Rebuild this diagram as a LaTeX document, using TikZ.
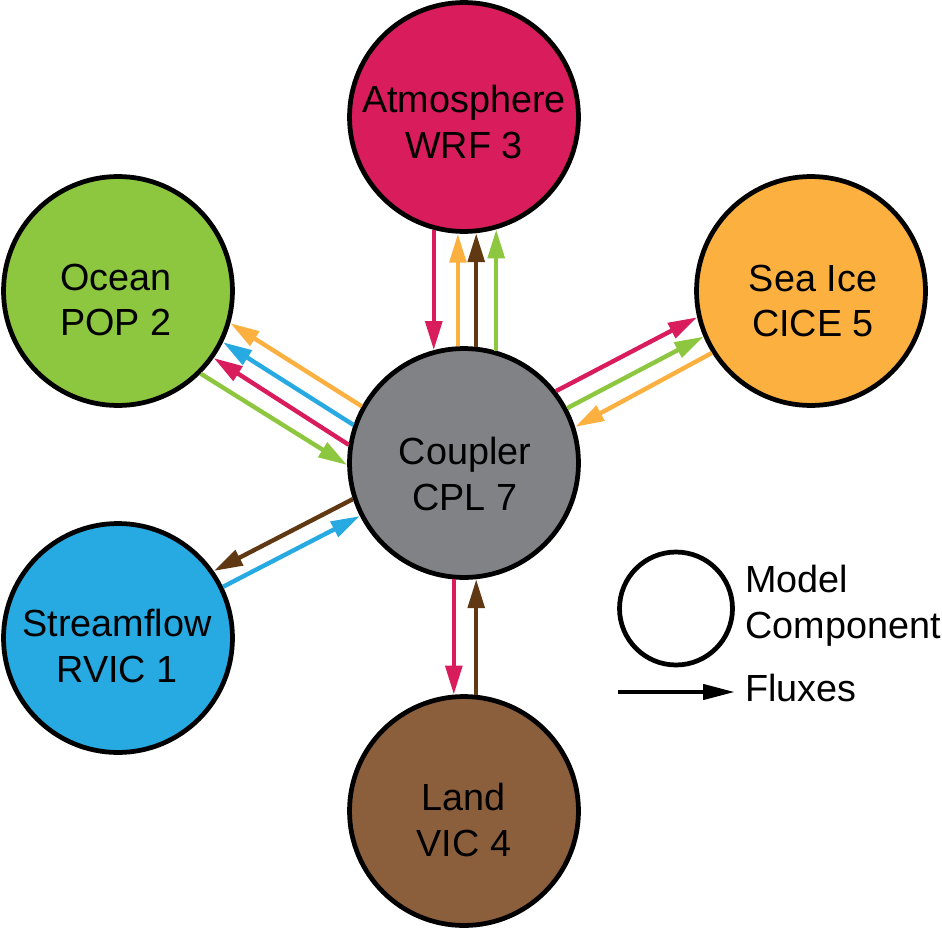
\documentclass[tikz,border=0pt]{standalone}
\usepackage{fontspec}
\setmainfont{Liberation Sans}
\usepackage{xcolor}
\usepackage{tikz}
\usetikzlibrary{arrows.meta}
\definecolor{atmcol}{HTML}{D91C5C}
\definecolor{icecol}{HTML}{FBB040}
\definecolor{oceancol}{HTML}{8DC63F}
\definecolor{rivercol}{HTML}{27AAE1}
\definecolor{landcol}{HTML}{8B5E3C}
\definecolor{landflux}{HTML}{603913}
\definecolor{cplcol}{HTML}{808285}

\begin{document}
\begin{tikzpicture}[x=0.02cm, y=-0.02cm,
    comp/.style={circle, draw=black, line width=0.095cm, minimum size=4.58cm, inner sep=0pt},
    lbl/.style={align=center, inner sep=0pt, font=\fontsize{21.5}{26}\selectfont},
    flux/.style={line width=0.088cm, -{Triangle[length=0.58cm, width=0.33cm]}}]
    \useasboundingbox (0,0) rectangle (942,929);

    \node[comp, fill=atmcol] (atm) at (464, 117) {};
    \node[comp, fill=oceancol] (ocean) at (118, 291) {};
    \node[comp, fill=icecol] (ice) at (811, 291) {};
    \node[comp, fill=cplcol] (cpl) at (464, 463) {};
    \node[comp, fill=rivercol] (river) at (118, 638) {};
    \node[comp, fill=landcol] (land) at (464, 811) {};

    \node[lbl] (atmtxt) at (464, 122) {Atmosphere\\WRF 3};
    \node[lbl] (oceantxt) at (116, 300) {Ocean\\POP 2};
    \node[lbl] (icetxt) at (813, 301) {Sea Ice\\CICE 5};
    \node[lbl] (cpltxt) at (465, 474) {Coupler\\CPL 7};
    \node[lbl] (rivertxt) at (117, 646) {Streamflow\\RVIC 1};
    \node[lbl] (landtxt) at (464, 820) {Land\\VIC 4};

    \draw[flux, atmcol] (atm.-105.7) -- (cpl.105.7);
    \draw[flux, icecol] (cpl.93.6) -- (atm.-93.6);
    \draw[flux, landflux] (cpl.84.6) -- (atm.-84.6);
    \draw[flux, oceancol] (cpl.74.6) -- (atm.-74.6);

    \draw[flux, icecol] (cpl.151.7) -- (ocean.-16.9);
    \draw[flux, rivercol] (cpl.161.1) -- (ocean.-26.4);
    \draw[flux, atmcol] (cpl.171.2) -- (ocean.-35.9);
    \draw[flux, oceancol] (ocean.-45.7) -- (cpl.181.8);

    \draw[flux, atmcol] (cpl.38.2) -- (ice.193.8);
    \draw[flux, oceancol] (cpl.28.4) -- (ice.203);
    \draw[flux, icecol] (ice.212.8) -- (cpl.18.6);

    \draw[flux, landflux] (cpl.198.2) -- (river.35.5);
    \draw[flux, rivercol] (river.26) -- (cpl.207.3);

    \draw[flux, atmcol] (cpl.-95.5) -- (land.95.5);
    \draw[flux, landflux] (land.84.6) -- (cpl.-84.6);

    \node[comp, minimum size=2.26cm, fill=white] (legcirc) at (676, 608.5) {};
    \node[lbl, align=left, anchor=west] (legtxt) at (745, 606) {Model\\Component};
    \node[lbl, anchor=west] (fluxtxt) at (745, 688) {Fluxes};
    \coordinate (fluxtail) at (618, 692);
    \draw[flux, black, -{Triangle[length=0.64cm, width=0.3cm]}, shorten >=0.2cm] (fluxtail) -- (fluxtail -| fluxtxt.west);
\end{tikzpicture}
\end{document}
